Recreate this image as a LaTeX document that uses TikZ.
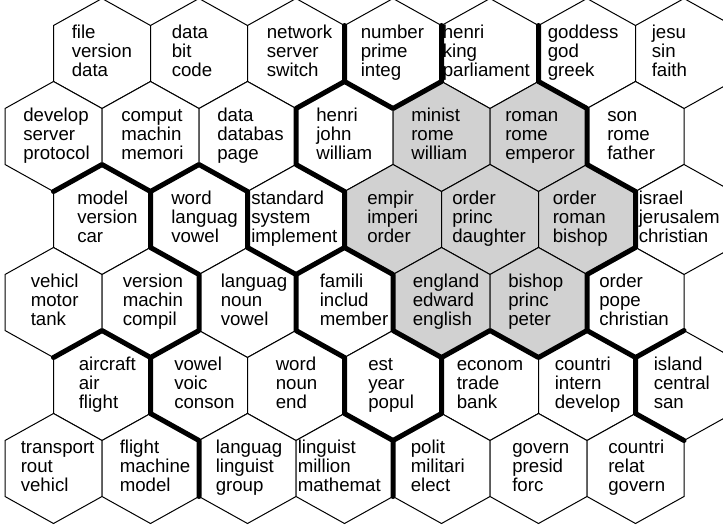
\documentclass[tikz,border=0pt]{standalone}
\usepackage{fontspec}
\setmainfont{Liberation Sans}
\usepackage{tikz}
\definecolor{cellgray}{gray}{0.82}

\begin{document}
\begin{tikzpicture}[
 x=0.75pt,y=-0.75pt,
 cell/.style={draw=black,line width=0.75pt},
 border/.style={line width=3.75pt,line cap=round,line join=round},
 lbl/.style={anchor=base west,align=left,inner sep=0pt,font=\fontsize{14}{14.2}\selectfont}
]
\useasboundingbox (0,0) rectangle (723,531);
\clip (0,0) rectangle (723,531);

\foreach \row/\col/\tone/\dx/\wa/\wb/\wc in {
 1/1/white/-30.5/file/version/data,
 1/2/white/-27.5/data/bit/code,
 1/3/white/-29.5/network/server/switch,
 1/4/white/-32.5/number/prime/integ,
 1/5/white/-47.5/henri/king/parliament,
 1/6/white/-39.5/goddess/god/greek,
 1/7/white/-32.5/jesu/sin/faith,
 2/1/white/-30.5/develop/server/protocol,
 2/2/white/-29.5/comput/machin/memori,
 2/3/white/-30.5/data/databas/page,
 2/4/white/-28.5/henri/john/william,
 2/5/cellgray/-30.5/minist/rome/william,
 2/6/cellgray/-33.5/roman/rome/emperor,
 2/7/white/-28.5/son/rome/father,
 3/1/white/-25/model/version/car,
 3/2/white/-28/word/languag/vowel,
 3/3/white/-45/standard/system/implement,
 3/4/cellgray/-26/empir/imperi/order,
 3/5/cellgray/-38/order/princ/daughter,
 3/6/cellgray/-34.5/order/roman/bishop,
 3/7/white/-45.5/israel/jerusalem/christian,
 4/1/white/-23/vehicl/motor/tank,
 4/2/white/-28/version/machin/compil,
 4/3/white/-27/languag/noun/vowel,
 4/4/white/-25/famili/includ/member,
 4/5/cellgray/-29/england/edward/english,
 4/6/cellgray/-30.5/bishop/princ/peter,
 4/7/white/-36.5/order/pope/christian,
 5/1/white/-23.5/aircraft/air/flight,
 5/2/white/-25/vowel/voic/conson,
 5/3/white/-20.5/word/noun/end,
 5/4/white/-25/est/year/popul,
 5/5/white/-33.5/econom/trade/bank,
 5/6/white/-32.5/countri/intern/develop,
 5/7/white/-30.5/island/central/san,
 6/1/white/-33/transport/rout/vehicl,
 6/2/white/-31/flight/machine/model,
 6/3/white/-32/languag/linguist/group,
 6/4/white/-47/linguist/million/mathemat,
 6/5/white/-31/polit/militari/elect,
 6/6/white/-26.5/govern/presid/forc,
 6/7/white/-27.5/countri/relat/govern%
}{
 \pgfmathsetmacro\cx{53.5+97*(\col-1)+48.5*mod(\row,2)}
 \pgfmathsetmacro\cy{53.5+83*(\row-1)}
 \coordinate (h\row\col) at (\cx,\cy);
 \coordinate (h\row\col-n) at (\cx,\cy-55);
 \coordinate (h\row\col-ne) at (\cx+48.5,\cy-28);
 \coordinate (h\row\col-se) at (\cx+48.5,\cy+28);
 \coordinate (h\row\col-s) at (\cx,\cy+55);
 \coordinate (h\row\col-sw) at (\cx-48.5,\cy+28);
 \coordinate (h\row\col-nw) at (\cx-48.5,\cy-28);
 \filldraw[cell,fill=\tone] (h\row\col-n) -- (h\row\col-ne) -- (h\row\col-se) -- (h\row\col-s) -- (h\row\col-sw) -- (h\row\col-nw) -- cycle;
 \node[lbl] (t\row\col) at (\cx+\dx,\cy+23) {\wa\\\wb\\\wc};
}

\draw[border] (h13-ne) -- (h13-se) -- (h13-s) -- (h24-sw) -- (h24-s) -- (h34-sw) -- (h34-s) -- (h45-sw) -- (h45-s) -- (h45-se) -- (h46-s) -- (h46-se) -- (h47-s) -- (h47-se);
\draw[border] (h14-sw) -- (h14-s) -- (h14-se) -- (h14-ne);
\draw[border] (h15-ne) -- (h15-se) -- (h26-ne) -- (h26-se) -- (h36-ne) -- (h36-se) -- (h36-s) -- (h47-sw);
\draw[border] (h56-ne) -- (h56-se) -- (h57-s);
\draw[border] (h31-nw) -- (h31-n) -- (h31-ne) -- (h32-n) -- (h32-ne) -- (h32-se) -- (h33-s) -- (h33-se);
\draw[border] (h31-ne) -- (h31-se) -- (h32-s) -- (h42-se) -- (h42-s) -- (h42-sw) -- (h41-s);
\draw[border] (h42-s) -- (h51-se) -- (h52-s) -- (h62-se);
\draw[border] (h43-ne) -- (h43-se) -- (h53-ne) -- (h53-se) -- (h64-ne) -- (h64-se);
\draw[border] (h54-ne) -- (h54-se) -- (h54-s);
\end{tikzpicture}
\end{document}
